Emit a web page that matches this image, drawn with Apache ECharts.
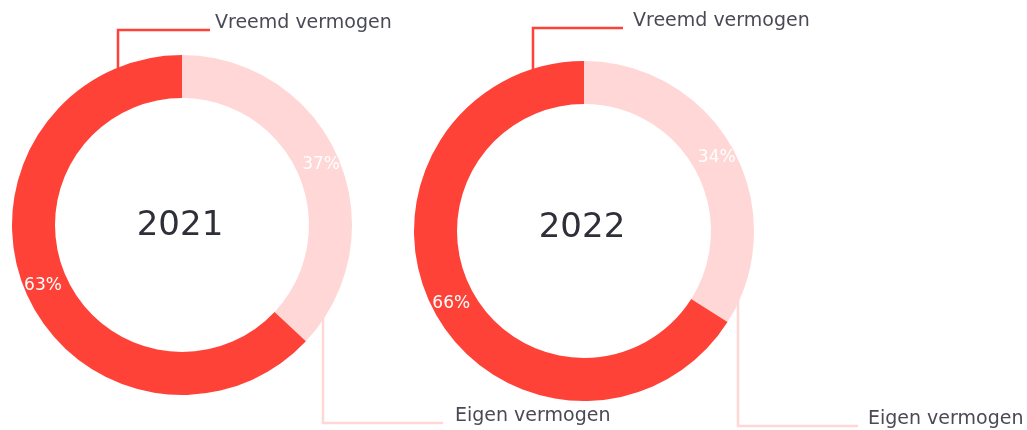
<!DOCTYPE html>
<html>
<head>
<meta charset="utf-8">
<title>Eigen en vreemd vermogen</title>
<script src="https://cdn.jsdelivr.net/npm/echarts@6/dist/echarts.min.js"></script>
<style>
  html, body { margin: 0; padding: 0; background: #ffffff; }
  #chart { width: 1027px; height: 430px; }
</style>
</head>
<body>
<div id="chart"></div>
<script>
// Balance sheet funding split, in percent
const categories = ['Eigen vermogen', 'Vreemd vermogen'];
const years = ['2021', '2022'];
const shares2021 = [37, 63];
const shares2022 = [34, 66];
const sharesByYear = [shares2021, shares2022];

// Styling
const sliceColors = ['#ffd7d6', '#ff4238'];
const leaderColors = ['#ffd7d6', '#ff4238'];
const ringRadius = [127, 170];
const fontFamily = 'DejaVu Sans, Verdana, sans-serif';

// Placement of each ring and of its two callouts (pixels)
const rings = [
  {
    center: [182, 225],
    yearY: 226,
    callouts: [
      { dx: 141, lineY: 423, endX: 443, textX: 455 },  // Eigen vermogen
      { dx: -64, lineY: 30, endX: 210, textX: 215 }    // Vreemd vermogen
    ]
  },
  {
    center: [584, 231],
    yearY: 228,
    callouts: [
      { dx: 154, lineY: 426, endX: 858, textX: 868 },
      { dx: -51, lineY: 28, endX: 623, textX: 633 }
    ]
  }
];

function buildData(values) {
  return categories.map((name, i) => ({
    name: name,
    value: values[i],
    itemStyle: { color: sliceColors[i] }
  }));
}

const series = [];
rings.forEach((ring, r) => {
  // coloured ring with the percentage written inside each slice
  series.push({
    type: 'pie',
    silent: true,
    center: ring.center,
    radius: ringRadius,
    startAngle: 90,
    clockwise: true,
    avoidLabelOverlap: false,
    emphasis: { disabled: true },
    label: {
      show: true,
      position: 'inside',
      formatter: '{c}%',
      color: '#ffffff',
      fontSize: 17,
      fontFamily: fontFamily
    },
    labelLine: { show: false },
    data: buildData(sharesByYear[r])
  });
  // transparent overlay that carries the category callouts
  series.push({
    type: 'pie',
    silent: true,
    center: ring.center,
    radius: ringRadius,
    startAngle: 90,
    clockwise: true,
    avoidLabelOverlap: false,
    emphasis: { disabled: true },
    itemStyle: { color: 'rgba(0,0,0,0)' },
    label: {
      show: true,
      position: 'outside',
      formatter: '{b}',
      color: '#4a4a55',
      fontSize: 19,
      fontFamily: fontFamily
    },
    labelLine: { show: true, smooth: false, lineStyle: { width: 2.5 } },
    labelLayout: function (params) {
      const ringCfg = rings[Math.floor(params.seriesIndex / 2)];
      const c = ringCfg.callouts[params.dataIndex];
      const cx = ringCfg.center[0];
      const cy = ringCfg.center[1];
      const vx = cx + c.dx;
      const rStart = 160;
      const dy = Math.sqrt(Math.max(rStart * rStart - c.dx * c.dx, 0));
      const startY = c.lineY < cy ? cy - dy : cy + dy;
      return {
        x: c.textX,
        y: c.lineY - 7,
        align: 'left',
        verticalAlign: 'middle',
        labelLinePoints: [[vx, startY], [vx, c.lineY], [c.endX, c.lineY]]
      };
    },
    data: categories.map((name, i) => ({
      name: name,
      value: sharesByYear[r][i],
      labelLine: { lineStyle: { color: leaderColors[i] } }
    }))
  });
});

const chart = echarts.init(document.getElementById('chart'), null, { renderer: 'canvas' });
chart.setOption({
  animation: false,
  title: rings.map((ring, r) => ({
    text: years[r],
    left: ring.center[0] - 2,
    top: ring.yearY,
    padding: 0,
    textAlign: 'center',
    textVerticalAlign: 'middle',
    textStyle: {
      color: '#2f2f3a',
      fontSize: 34,
      fontWeight: 'normal',
      fontFamily: fontFamily
    }
  })),
  series: series
});
</script>
</body>
</html>
